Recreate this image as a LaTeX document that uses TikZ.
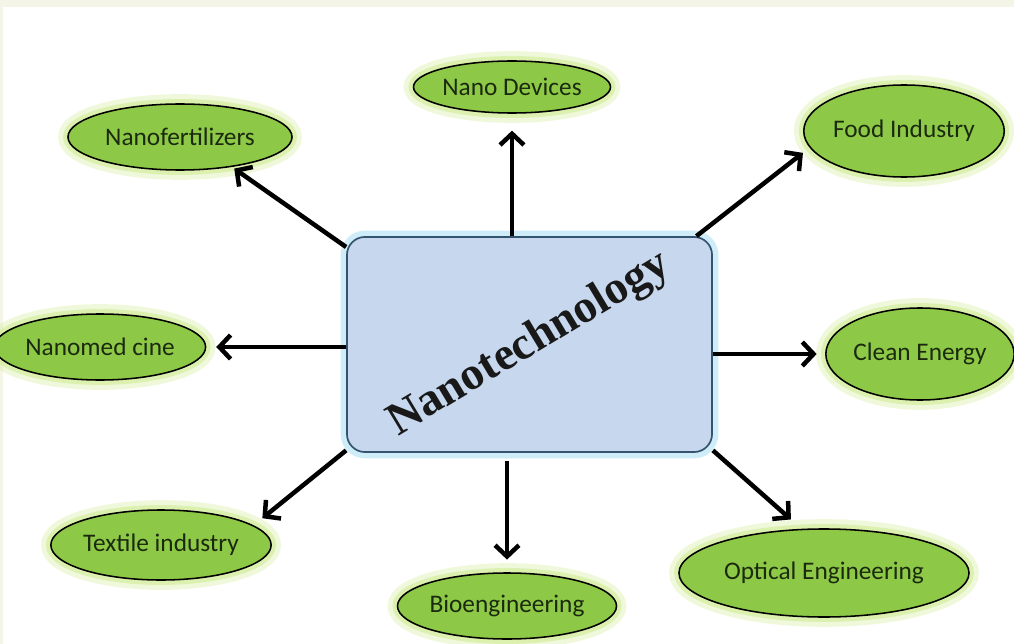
\documentclass[tikz,border=0pt]{standalone}
\usepackage{fontspec}
\setmainfont{Liberation Serif}
\newfontfamily\calfont{Carlito}
\usetikzlibrary{shapes.geometric,arrows.meta}
\definecolor{cream}{HTML}{F4F5E6}
\definecolor{leaf}{HTML}{8DC947}
\definecolor{halo}{HTML}{CDEB8B}
\definecolor{boxblue}{HTML}{C6D7EE}
\definecolor{boxedge}{HTML}{34536F}
\definecolor{skyglow}{HTML}{9EDCF2}
\definecolor{labelink}{HTML}{1B2A0E}
\begin{document}
\begin{tikzpicture}[x=0.025cm, y=-0.025cm,
    field/.style={ellipse, draw=black, line width=1.1pt, fill=leaf, inner sep=0pt,
      text=labelink, font=\calfont\fontsize{18}{21}\selectfont,
      preaction={draw=halo, line width=14pt, opacity=0.3},
      preaction={draw=halo, line width=7pt, opacity=0.55}},
    hub/.style={rectangle, rounded corners=0.45cm, draw=boxedge, line width=1.2pt,
      fill=boxblue, minimum width=9.125cm, minimum height=5.375cm,
      preaction={draw=skyglow, line width=9pt, opacity=0.5}},
    arr/.style={-{Straight Barb[length=8pt,width=17pt]}, line width=3.2pt}]
    \useasboundingbox (0,0) rectangle (1014,644);
    \clip (0,0) rectangle (1014,644);
    \fill[cream] (0,0) rectangle (1014,644);
    \fill[white] (3,7) rectangle (1014,644);

    % centre box
    \node[hub, label={[rotate=31, font=\fontsize{33}{38}\selectfont\bfseries, text=black!90]center:Nanotechnology}] (hub) at (529.5,344.5) {};

    % fields
    \node[field, minimum width=4.375cm, minimum height=1.3cm] (dev) at (512,87) {Nano Devices};
    \node[field, minimum width=5.6cm, minimum height=1.65cm] (fert) at (180,137) {Nanofertilizers};
    \node[field, minimum width=4.95cm, minimum height=2.3cm] (food) at (904,131) {Food Industry};
    \node[field, minimum width=4.75cm, minimum height=1.65cm] (med) at (100,347) {Nanomed cine};
    \node[field, minimum width=4.125cm, minimum height=2.3cm] (clean) at (920,354) {Clean Energy};
    \node[field, minimum width=5.4cm, minimum height=1.75cm] (tex) at (161,545) {Textile industry};
    \node[field, minimum width=4.55cm, minimum height=1.65cm] (bio) at (507,606) {Bioengineering};
    \node[field, minimum width=7.25cm, minimum height=2.2cm] (opt) at (824,573) {Optical Engineering};

    % arrows
    \draw[arr, shorten >=2pt] (hub.152) -- (fert.-30);
    \draw[arr, shorten >=12pt] (hub.north -| dev.south) -- (dev.south);
    \draw[arr, shorten >=6pt] (hub.33) -- (food.190);
    \draw[arr, shorten >=7pt] (hub.west |- med.east) -- (med.east);
    \draw[arr, shorten >=6pt] (hub.east |- clean.west) -- (clean.west);
    \draw[arr, shorten >=10pt] (hub.-30) -- (opt.117);
    \draw[arr, shorten <=6pt, shorten >=9pt] (hub.south -| bio.north) -- (bio.north);
    \draw[arr, shorten >=8pt] (hub.210) -- (tex.12);
\end{tikzpicture}
\end{document}
